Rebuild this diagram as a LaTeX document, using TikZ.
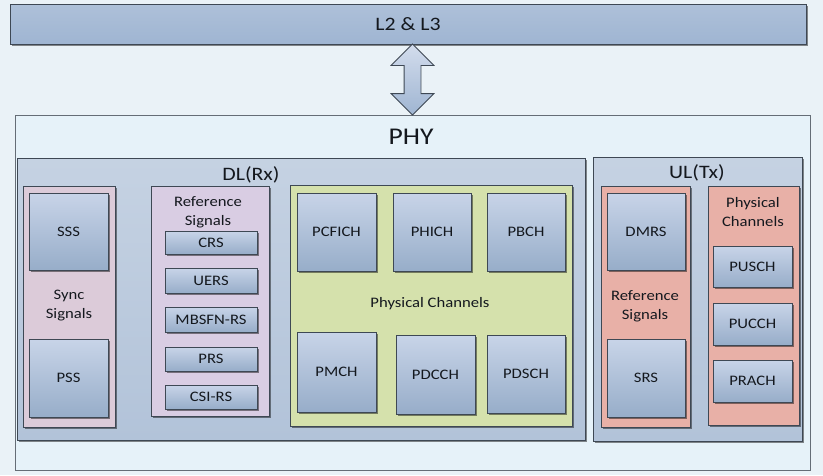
\documentclass[tikz,border=0pt]{standalone}
\usepackage{fontspec}
\setmainfont{Carlito}[FakeStretch=1.15]
\usetikzlibrary{fit,shadows,calc,shapes.arrows}
\definecolor{bgc}{HTML}{EAF2F7}
\definecolor{l23c}{HTML}{9FB5D2}
\definecolor{phyc}{HTML}{E6F2F9}
\definecolor{dlc}{HTML}{B2C3D9}
\definecolor{syncc}{HTML}{DCCBD9}
\definecolor{refc}{HTML}{D9CDE3}
\definecolor{greenc}{HTML}{D5E1AC}
\definecolor{salc}{HTML}{E8B0A7}
\definecolor{boxtop}{HTML}{C8D4E8}
\definecolor{boxbot}{HTML}{97ADC9}
\definecolor{edgec}{HTML}{3E4854}
\definecolor{txtc}{HTML}{14181E}
\newcommand\bx[6]{\node[#6, fit={(#2,#3) (#4,#5)}, inner sep=0pt] (#1) {};}
\newcommand\ib[6]{\node[ibox, fit={(#2,#3) (#4,#5)}, inner sep=0pt, label={[lbl]center:#6}] (#1) {};}
\tikzset{
  shad/.style={drop shadow={shadow xshift=1.5pt, shadow yshift=-1.5pt, fill=black, opacity=0.45}},
  cont/.style={draw=edgec, line width=0.8pt, shad},
  ibox/.style={draw=edgec, line width=0.8pt, top color=boxtop, bottom color=boxbot, shad},
  lbl/.style={text=txtc, font=\fontsize{14.5}{19}\selectfont, align=center, inner sep=0pt},
  big/.style={text=txtc, align=center, inner sep=0pt},
}
\begin{document}
\begin{tikzpicture}[x=1pt,y=-1pt]
\fill[bgc] (0,0) rectangle (823,475);
\useasboundingbox (0,0) rectangle (823,475);
% top layer
\bx{l23}{10}{4}{806}{44}{cont, top color=l23c!85!white, bottom color=l23c}
\node[big, font=\fontsize{19}{23}\selectfont] (l23t) at (l23.center) {L2 \& L3};
% PHY
\bx{phy}{15}{115}{810}{470}{draw=edgec!80, line width=0.8pt, fill=phyc}
\node[big, font=\fontsize{24}{28}\selectfont] (phyt) at (411,137) {PHY};
% connector
\node[double arrow, draw=edgec, line width=0.8pt, top color=boxtop!80!white, bottom color=l23c,
      rotate=90, minimum height=71pt, minimum width=42pt, inner sep=8pt,
      double arrow head extend=13pt] (arr) at ($(l23.south -| phy.north)!0.5!(phy.north)$) {};
% DL
\bx{dl}{17}{158}{585}{440}{cont, top color=dlc!75!white, bottom color=dlc}
\node[big, font=\fontsize{19}{23}\selectfont] (dlt) at (251,175) {DL(Rx)};
% Sync
\bx{sync}{23}{186}{115}{427}{cont, fill=syncc}
\ib{sss}{29}{193}{108}{270}{SSS}
\ib{pss}{29}{339}{108}{417}{PSS}
\node[lbl] (synct) at (69,306) {Sync\\Signals};
% Reference signals DL
\bx{refd}{151}{186}{269}{416}{cont, fill=refc}
\node[lbl] (refdt) at (208,212) {Reference\\Signals};
\ib{crs}{165}{231}{257}{254}{CRS}
\ib{uers}{165}{268}{257}{293}{UERS}
\ib{mbsfn}{165}{307}{257}{332}{MBSFN-RS}
\ib{prs}{165}{347}{257}{371}{PRS}
\ib{csi}{165}{385}{257}{409}{CSI-RS}
% Physical channels DL
\bx{green}{290}{185}{572}{426}{cont, fill=greenc}
\ib{pcfich}{297}{193}{376}{271}{PCFICH}
\ib{phich}{393}{193}{471}{271}{PHICH}
\ib{pbch}{487}{193}{565}{271}{PBCH}
\node[lbl] (greent) at (430,304) {Physical Channels};
\ib{pmch}{297}{332}{376}{412}{PMCH}
\ib{pdcch}{396}{335}{475}{414}{PDCCH}
\ib{pdsch}{487}{335}{565}{413}{PDSCH}
% UL
\bx{ul}{593}{157}{802}{441}{cont, top color=dlc!75!white, bottom color=dlc}
\bx{ulref}{601}{186}{690}{427}{cont, fill=salc}
\bx{ulph}{708}{186}{799}{425}{cont, fill=salc}
\node[big, font=\fontsize{19}{23}\selectfont] (ult) at (697,173) {UL(Tx)};
\ib{dmrs}{607}{193}{685}{270}{DMRS}
\ib{srs}{607}{339}{685}{417}{SRS}
\node[lbl] (ulreft) at (645,306) {Reference\\Signals};
\node[lbl] (ulpht) at (753,212) {Physical\\Channels};
\ib{pusch}{713}{246}{792}{287}{PUSCH}
\ib{pucch}{713}{303}{792}{345}{PUCCH}
\ib{prach}{713}{360}{792}{402}{PRACH}
\end{tikzpicture}
\end{document}
